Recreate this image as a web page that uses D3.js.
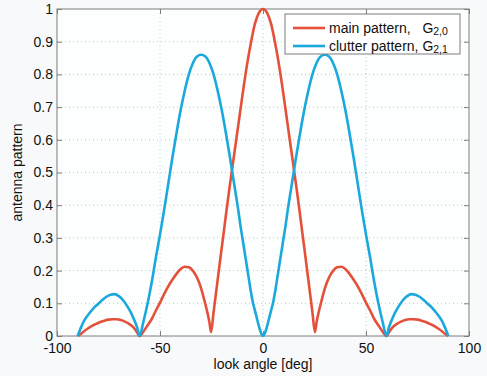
<!DOCTYPE html>
<html>
<head>
<meta charset="utf-8">
<script src="https://cdn.jsdelivr.net/npm/d3@7"></script>
<style>
  body { margin: 0; background: #f8f9fa; }
  text { font-family: "Liberation Sans", Arial, sans-serif; fill: #111; }
</style>
</head>
<body>
<div id="chart"></div>
<script>
// main pattern G2,0
const mainAngle = [-90, -88.5, -87, -85, -83, -81, -79, -77, -75, -73, -71, -69, -67, -65, -63, -61, -60,
  -58, -56, -54, -52, -50, -48, -46, -44, -42, -40, -38, -36, -34, -32, -30, -29, -28, -27, -26, -25.2,
  -24, -23, -22, -21, -20, -19, -18, -17, -16, -15, -14, -12, -10, -8, -6, -4, -2, 0,
  2, 4, 6, 8, 10, 12, 14, 15, 16, 17, 18, 19, 20, 21, 22, 23, 24, 25.2,
  26, 27, 28, 29, 30, 32, 34, 36, 38, 40, 42, 44, 46, 48, 50, 52, 54, 56, 58,
  60, 61, 63, 65, 67, 69, 71, 73, 75, 77, 79, 81, 83, 85, 87, 88.5, 90];
const mainGain = [0, 0.006, 0.014, 0.023, 0.031, 0.037, 0.043, 0.047, 0.05, 0.051, 0.051, 0.049, 0.044, 0.037, 0.027, 0.01, 0,
  0.014, 0.033, 0.052, 0.078, 0.102, 0.128, 0.152, 0.172, 0.19, 0.205, 0.212, 0.21, 0.199, 0.178, 0.145, 0.122, 0.098, 0.072, 0.042, 0.012,
  0.072, 0.122, 0.172, 0.222, 0.272, 0.32, 0.37, 0.418, 0.465, 0.51, 0.555, 0.645, 0.735, 0.82, 0.892, 0.953, 0.988, 1,
  0.988, 0.953, 0.892, 0.82, 0.735, 0.645, 0.555, 0.51, 0.465, 0.418, 0.37, 0.32, 0.272, 0.222, 0.172, 0.122, 0.072, 0.012,
  0.042, 0.072, 0.098, 0.122, 0.145, 0.178, 0.199, 0.21, 0.212, 0.205, 0.19, 0.172, 0.152, 0.128, 0.102, 0.078, 0.052, 0.033, 0.014,
  0, 0.01, 0.027, 0.037, 0.044, 0.049, 0.051, 0.051, 0.05, 0.047, 0.043, 0.037, 0.031, 0.023, 0.014, 0.006, 0];

// clutter pattern G2,1
const clutterAngle = [-90, -88, -87, -86, -84, -82, -80, -78, -76, -74, -72, -70, -68, -66, -64, -62, -61, -60,
  -58, -56, -54, -52, -50, -48, -46, -44, -42, -40, -38, -36, -34, -32, -30, -28, -26, -24, -22, -20, -18,
  -16, -15, -14, -13, -12, -11, -10, -9, -8, -7, -6, -5, -4, -3, -2, -1, 0,
  1, 2, 3, 4, 5, 6, 7, 8, 9, 10, 11, 12, 13, 14, 15, 16,
  18, 20, 22, 24, 26, 28, 30, 32, 34, 36, 38, 40, 42, 44, 46, 48, 50, 52, 54, 56, 58,
  60, 61, 62, 64, 66, 68, 70, 72, 74, 76, 78, 80, 82, 84, 86, 87, 88, 90];
const clutterGain = [0, 0.031, 0.045, 0.055, 0.072, 0.087, 0.098, 0.11, 0.12, 0.126, 0.128, 0.122, 0.11, 0.092, 0.07, 0.041, 0.024, 0,
  0.045, 0.1, 0.165, 0.24, 0.31, 0.385, 0.465, 0.545, 0.62, 0.69, 0.75, 0.8, 0.835, 0.855, 0.86, 0.855, 0.835, 0.8, 0.75, 0.69, 0.62,
  0.545, 0.505, 0.465, 0.425, 0.385, 0.34, 0.3, 0.26, 0.22, 0.18, 0.14, 0.105, 0.08, 0.055, 0.03, 0.01, 0,
  0.01, 0.03, 0.055, 0.08, 0.105, 0.14, 0.18, 0.22, 0.26, 0.3, 0.34, 0.385, 0.425, 0.465, 0.505, 0.545,
  0.62, 0.69, 0.75, 0.8, 0.835, 0.855, 0.86, 0.855, 0.835, 0.8, 0.75, 0.69, 0.62, 0.545, 0.465, 0.385, 0.31, 0.24, 0.165, 0.1, 0.045,
  0, 0.024, 0.041, 0.07, 0.092, 0.11, 0.122, 0.128, 0.126, 0.12, 0.11, 0.098, 0.087, 0.072, 0.055, 0.045, 0.031, 0];

const xTicks = [-100, -50, 0, 50, 100];
const yTicks = [0, 0.1, 0.2, 0.3, 0.4, 0.5, 0.6, 0.7, 0.8, 0.9, 1];
const xGrid = [-50, 0, 50];
const seriesNames = ['main pattern,   G', 'clutter pattern, G'];
const seriesSubs = ['2,0', '2,1'];
const seriesColors = ['#e4513b', '#1ba8dc'];

const W = 487, H = 376;
const margin = {top: 9, right: 18, bottom: 40, left: 57};
const width = W - margin.left - margin.right;
const height = H - margin.top - margin.bottom;

const svg = d3.select('#chart')
  .append('svg')
  .attr('width', W)
  .attr('height', H);

const g = svg.append('g')
  .attr('transform', `translate(${margin.left},${margin.top})`);

const x = d3.scaleLinear().domain([-100, 100]).range([0, width]);
const y = d3.scaleLinear().domain([0, 1]).range([height, 0]);

g.append('rect')
  .attr('width', width)
  .attr('height', height)
  .attr('fill', '#fdfefe');

// dotted grid
g.selectAll('.gx')
  .data(xGrid).enter()
  .append('line')
  .attr('x1', d => x(d)).attr('x2', d => x(d))
  .attr('y1', 0).attr('y2', height)
  .attr('stroke', '#9fd0e4')
  .attr('stroke-width', 1)
  .attr('stroke-dasharray', '1,3');

g.selectAll('.gy')
  .data(yTicks.slice(1, -1)).enter()
  .append('line')
  .attr('x1', 0).attr('x2', width)
  .attr('y1', d => y(d)).attr('y2', d => y(d))
  .attr('stroke', '#9fd0e4')
  .attr('stroke-width', 1)
  .attr('stroke-dasharray', '1,3');

// axes with inward ticks, matlab style
const axisColor = '#7d7d7d';
const styleAxis = sel => {
  sel.select('.domain').remove();
  sel.selectAll('line').attr('stroke', axisColor);
  sel.selectAll('text')
    .style('font-size', '14px')
    .style('font-family', '"Liberation Sans", Arial, sans-serif')
    .attr('fill', '#111');
};

// plain hyphen for negatives, like the original
const fmt = d => String(d);

g.append('g')
  .attr('transform', `translate(0,${height})`)
  .call(d3.axisBottom(x).tickValues(xTicks).tickSize(-5).tickPadding(7).tickFormat(fmt))
  .call(styleAxis);

g.append('g')
  .call(d3.axisTop(x).tickValues(xTicks).tickSize(-5).tickFormat(''))
  .call(styleAxis);

g.append('g')
  .call(d3.axisLeft(y).tickValues(yTicks).tickSize(-5).tickPadding(4).tickFormat(fmt))
  .call(styleAxis);

g.append('g')
  .attr('transform', `translate(${width},0)`)
  .call(d3.axisRight(y).tickValues(yTicks).tickSize(-5).tickFormat(''))
  .call(styleAxis);

g.append('rect')
  .attr('width', width)
  .attr('height', height)
  .attr('fill', 'none')
  .attr('stroke', axisColor)
  .attr('stroke-width', 1);

// curves
const line = d3.line()
  .x(d => x(d[0]))
  .y(d => y(d[1]))
  .curve(d3.curveMonotoneX);

const series = [
  d3.zip(mainAngle, mainGain),
  d3.zip(clutterAngle, clutterGain)
];

g.selectAll('.curve')
  .data(series).enter()
  .append('path')
  .attr('class', 'curve')
  .attr('fill', 'none')
  .attr('stroke', (d, i) => seriesColors[i])
  .attr('stroke-width', 2.6)
  .attr('stroke-linejoin', 'round')
  .attr('d', line);

// legend
const lg = g.append('g').attr('transform', `translate(${285 - margin.left},${14 - margin.top})`);
lg.append('rect')
  .attr('width', 175)
  .attr('height', 40)
  .attr('fill', '#ffffff')
  .attr('stroke', axisColor)
  .attr('stroke-width', 1);

seriesNames.forEach((name, i) => {
  const yy = 14 + i * 18;
  lg.append('line')
    .attr('x1', 8).attr('x2', 40)
    .attr('y1', yy).attr('y2', yy)
    .attr('stroke', seriesColors[i])
    .attr('stroke-width', 2.6);
  const t = lg.append('text')
    .attr('x', 44)
    .attr('y', yy + 5)
    .style('font-size', '14px')
    .attr('xml:space', 'preserve')
    .style('white-space', 'pre');
  t.append('tspan').text(name);
  t.append('tspan')
    .attr('dy', 2)
    .style('font-size', '10.5px')
    .text(seriesSubs[i]);
});

// axis labels
svg.append('text')
  .attr('x', margin.left + width / 2)
  .attr('y', 369)
  .attr('text-anchor', 'middle')
  .style('font-size', '14px')
  .text('look angle [deg]');

svg.append('text')
  .attr('transform', `translate(22,${margin.top + height / 2}) rotate(-90)`)
  .attr('text-anchor', 'middle')
  .style('font-size', '14px')
  .text('antenna pattern');
</script>
</body>
</html>
